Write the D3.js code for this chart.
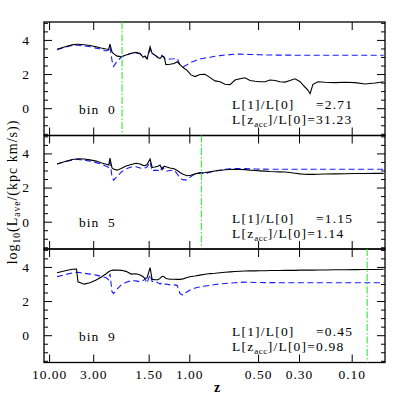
<!DOCTYPE html>
<html>
<head>
<meta charset="utf-8">
<script src="https://cdn.jsdelivr.net/npm/d3@7/dist/d3.min.js"></script>
<style>
  body { margin: 0; background: #fff; }
  text { font-family: "Liberation Serif", "Times New Roman", serif; fill: #000; }
</style>
</head>
<body>
<svg id="chart" width="407" height="407"></svg>
<script>
// cosmic time (Gyr) of each output, shared by all curves
var tGyr = [0.80, 1.12, 1.39, 1.56, 1.62, 1.86, 2.09, 2.33, 2.52, 2.72,
            2.82, 2.87, 2.95, 3.01, 3.15, 3.31, 3.50, 3.70, 3.89, 4.05,
            4.17, 4.24, 4.32, 4.44, 4.52, 4.63, 4.75, 4.83, 4.91, 4.99,
            5.06, 5.22, 5.38, 5.50, 5.61, 5.73, 5.89, 6.04, 6.20, 6.39,
            6.59, 6.79, 6.98, 7.18, 7.37, 7.57, 7.76, 7.96, 8.15, 8.35,
            8.55, 8.74, 8.94, 9.13, 9.33, 9.52, 9.72, 9.91, 10.11, 10.31,
            10.46, 10.62, 10.70, 10.81, 11.01, 11.28, 11.67, 12.07, 12.46, 12.85,
            13.24, 13.58];

var bins = [0, 5, 9];

// log10 L_ave, solid black
var solid0 = [3.45, 3.60, 3.71, 3.75, 3.75, 3.72, 3.67, 3.60, 3.53, 3.47,
              3.45, 3.76, 3.30, 3.20, 3.05, 3.02, 3.12, 3.22, 3.27, 3.21,
              2.98, 3.05, 2.88, 3.60, 3.21, 3.11, 2.95, 2.92, 3.05, 3.01,
              2.55, 2.57, 2.62, 2.72, 2.55, 2.38, 2.22, 1.95, 1.85, 1.97,
              1.99, 1.79, 1.60, 1.55, 1.40, 1.38, 1.65, 1.72, 1.78, 1.62,
              1.58, 1.55, 1.55, 1.65, 1.62, 1.55, 1.53, 1.62, 1.72, 1.55,
              1.30, 1.05, 0.85, 1.40, 1.55, 1.52, 1.50, 1.52, 1.50, 1.42,
              1.48, 1.55];
var solid5 = [3.38, 3.53, 3.64, 3.67, 3.68, 3.67, 3.62, 3.55, 3.45, 3.36,
              3.32, 3.72, 3.15, 3.08, 3.02, 3.12, 3.26, 3.35, 3.42, 3.38,
              3.30, 3.28, 3.35, 3.67, 3.18, 3.20, 3.25, 3.32, 3.05, 3.25,
              3.22, 3.15, 3.10, 3.00, 2.88, 2.78, 2.69, 2.72, 2.80, 2.86,
              2.88, 2.92, 2.97, 3.00, 3.04, 3.06, 3.07, 3.06, 3.05, 3.02,
              3.00, 2.98, 2.96, 2.94, 2.93, 2.92, 2.91, 2.88, 2.84, 2.80,
              2.78, 2.77, 2.77, 2.77, 2.78, 2.79, 2.80, 2.81, 2.82, 2.82,
              2.83, 2.83];
var solid9 = [3.66, 3.78, 3.86, 3.88, 3.13, 2.99, 3.07, 3.24, 3.40, 3.60,
              3.72, 3.76, 3.80, 3.81, 3.82, 3.80, 3.74, 3.58, 3.60, 3.53,
              3.42, 3.33, 3.35, 3.96, 3.27, 3.25, 3.25, 3.33, 3.45, 3.42,
              3.32, 3.28, 3.28, 3.27, 3.27, 3.30, 3.38, 3.44, 3.47, 3.52,
              3.57, 3.61, 3.63, 3.66, 3.69, 3.71, 3.73, 3.75, 3.76, 3.77,
              3.77, 3.78, 3.78, 3.79, 3.79, 3.79, 3.80, 3.80, 3.80, 3.81,
              3.81, 3.81, 3.81, 3.81, 3.82, 3.82, 3.83, 3.83, 3.84, 3.85,
              3.85, 3.86];

// log10 L_ave, dashed blue
var dashed0 = [3.42, 3.58, 3.68, 3.70, 3.69, 3.65, 3.60, 3.52, 3.45, 3.35,
               3.40, 3.60, 2.80, 2.45, 2.75, 2.98, 3.12, 3.20, 3.25, 3.18,
               3.00, 3.05, 2.92, 3.45, 3.20, 3.11, 3.00, 3.02, 3.10, 2.95,
               2.86, 2.88, 2.90, 2.92, 2.55, 2.42, 2.55, 2.68, 2.78, 2.88,
               2.94, 2.98, 3.04, 3.08, 3.12, 3.14, 3.16, 3.17, 3.16, 3.15,
               3.14, 3.13, 3.12, 3.12, 3.11, 3.11, 3.11, 3.11, 3.10, 3.10,
               3.10, 3.10, 3.10, 3.10, 3.10, 3.10, 3.10, 3.10, 3.10, 3.10,
               3.10, 3.10];
var dashed5 = [3.38, 3.52, 3.61, 3.64, 3.64, 3.61, 3.55, 3.46, 3.38, 3.25,
               3.18, 3.50, 2.65, 2.43, 2.65, 2.90, 3.10, 3.20, 3.22, 3.15,
               3.10, 3.15, 3.20, 3.50, 2.96, 3.02, 3.00, 2.92, 3.20, 3.10,
               2.95, 3.00, 3.02, 2.80, 2.55, 2.45, 2.45, 2.65, 2.80, 2.86,
               2.78, 2.92, 2.98, 3.03, 3.07, 3.10, 3.12, 3.12, 3.11, 3.10,
               3.09, 3.08, 3.08, 3.07, 3.07, 3.07, 3.07, 3.07, 3.07, 3.07,
               3.07, 3.07, 3.07, 3.07, 3.07, 3.07, 3.07, 3.07, 3.07, 3.07,
               3.07, 3.07];
var dashed9 = [3.43, 3.55, 3.64, 3.68, 3.68, 3.63, 3.58, 3.52, 3.45, 3.36,
               3.25, 3.60, 2.55, 2.44, 2.70, 2.95, 3.10, 3.19, 3.18, 3.13,
               3.20, 3.30, 3.05, 3.55, 3.15, 3.15, 3.08, 3.00, 3.08, 2.98,
               3.00, 2.95, 2.95, 2.92, 2.44, 2.34, 2.55, 2.68, 2.76, 2.83,
               2.88, 2.92, 2.97, 3.00, 3.03, 3.05, 3.07, 3.09, 3.11, 3.10,
               3.09, 3.09, 3.08, 3.08, 3.08, 3.07, 3.07, 3.07, 3.07, 3.07,
               3.07, 3.07, 3.07, 3.07, 3.07, 3.07, 3.07, 3.07, 3.07, 3.07,
               3.07, 3.07];

var zAcc = [2.02, 0.89, 0.05];
var ratioNow = ["2.71", "1.15", "0.45"];
var ratioAcc = ["31.23", "1.14", "0.98"];

var zTicks = [10, 3, 1.5, 1, 0.5, 0.3, 0.1];
var yMajor = [0, 2, 4];
var yMinor = d3.range(-1.5, 5.01, 0.5).filter(function (v) { return yMajor.indexOf(v) < 0; });

var solids = [solid0, solid5, solid9];
var dasheds = [dashed0, dashed5, dashed9];

// age of the universe at redshift z (flat LCDM, Om=0.25, h=0.73)
function ageGyr(z) {
    var om = 0.25, ol = 0.75, hubbleTime = 977.8 / 73;
    return 2 / (3 * Math.sqrt(ol)) * hubbleTime *
        Math.asinh(Math.sqrt(ol / om) * Math.pow(1 + z, -1.5));
}

function drawChart() {
    var left = 44, right = 385;
    var firstTop = 22, panelH = 113.5;

    var svg = d3.select("#chart");

    var xScale = d3.scaleLinear()
        .domain([0.29, 13.63])
        .range([left, right]);

    var fmt = d3.format(".2f");

    for (var p = 0; p < 3; p++) {
        var yTop = firstTop + p * panelH;
        var yBottom = yTop + panelH;
        var isLast = (p == 2);

        var yScale = d3.scaleLinear()
            .domain([-1.6, 5.05])
            .range([yBottom, yTop]);

        var g = svg.append("g");

        // x ticks, bottom and top, pointing in
        var xb = d3.axisBottom(xScale)
            .tickValues(zTicks.map(ageGyr))
            .tickSize(-8)
            .tickPadding(7)
            .tickFormat(function (d, i) { return isLast ? fmt(zTicks[i]) : ""; });
        g.append("g").attr("transform", "translate(0," + yBottom + ")").call(xb);

        var xt = d3.axisTop(xScale)
            .tickValues(zTicks.map(ageGyr))
            .tickSize(-8)
            .tickFormat("");
        g.append("g").attr("transform", "translate(0," + yTop + ")").call(xt);

        // y ticks, left and right
        g.append("g").attr("transform", "translate(" + left + ",0)")
            .call(d3.axisLeft(yScale).tickValues(yMajor).tickSize(-8).tickPadding(14).tickFormat(d3.format("d")));
        g.append("g").attr("transform", "translate(" + left + ",0)")
            .call(d3.axisLeft(yScale).tickValues(yMinor).tickSize(-4).tickFormat(""));
        g.append("g").attr("transform", "translate(" + right + ",0)")
            .call(d3.axisRight(yScale).tickValues(yMajor).tickSize(-8).tickFormat(""));
        g.append("g").attr("transform", "translate(" + right + ",0)")
            .call(d3.axisRight(yScale).tickValues(yMinor).tickSize(-4).tickFormat(""));

        g.selectAll(".domain").remove();
        g.selectAll(".tick line").attr("stroke", "#000").attr("stroke-width", 1);
        g.selectAll(".tick text")
            .attr("font-family", "Liberation Serif, serif")
            .attr("font-size", 13.5)
            .attr("letter-spacing", 1)
            .attr("fill", "#000");

        // panel frame
        g.append("rect")
            .attr("x", left).attr("y", yTop)
            .attr("width", right - left).attr("height", panelH)
            .attr("fill", "none").attr("stroke", "#000").attr("stroke-width", 1.3);

        var line = d3.line()
            .x(function (d, i) { return xScale(tGyr[i]); })
            .y(function (d) { return yScale(d); });

        g.append("path").datum(dasheds[p])
            .attr("d", line)
            .attr("fill", "none")
            .attr("stroke", "#1a1aff")
            .attr("stroke-width", 1.1)
            .attr("stroke-dasharray", "6,3.5");

        g.append("path").datum(solids[p])
            .attr("d", line)
            .attr("fill", "none")
            .attr("stroke", "#000")
            .attr("stroke-width", 1.1);

        // accretion redshift marker
        var xAcc = xScale(ageGyr(zAcc[p]));
        g.append("line")
            .attr("x1", xAcc).attr("x2", xAcc)
            .attr("y1", yTop).attr("y2", yBottom)
            .attr("stroke", "#33e633")
            .attr("stroke-width", 1.1)
            .attr("stroke-dasharray", "7,2,1.5,2");

        // labels
        g.append("text")
            .attr("x", 79).attr("y", yTop + 91.5)
            .attr("font-size", 13.5)
            .attr("letter-spacing", 1)
            .style("white-space", "pre")
            .text("bin  " + bins[p]);

        g.append("text")
            .attr("x", 232).attr("y", yTop + 87)
            .attr("font-size", 13.5)
            .attr("letter-spacing", 1.2)
            .text("L[1]/L[0]");
        g.append("text")
            .attr("x", 316).attr("y", yTop + 87)
            .attr("font-size", 13.5)
            .attr("letter-spacing", 1.2)
            .text("=" + ratioNow[p]);

        var t2 = g.append("text")
            .attr("x", 232).attr("y", yTop + 102)
            .attr("font-size", 13.5)
            .attr("letter-spacing", 1.2);
        t2.append("tspan").text("L[z");
        t2.append("tspan").attr("font-size", 9).attr("dy", 3).attr("letter-spacing", 0.5).text("acc");
        t2.append("tspan").attr("dy", -3).text("]/L[0]=" + ratioAcc[p]);
    }

    // axis titles
    svg.append("text")
        .attr("x", 217).attr("y", 392)
        .attr("font-size", 14)
        .attr("font-weight", "bold")
        .attr("text-anchor", "middle")
        .text("z");

    var yl = svg.append("text")
        .attr("transform", "translate(17,192) rotate(-90)")
        .attr("text-anchor", "middle")
        .attr("font-size", 14)
        .attr("letter-spacing", 1);
    yl.append("tspan").text("log");
    yl.append("tspan").attr("font-size", 9.5).attr("dy", 3).text("10");
    yl.append("tspan").attr("dy", -3).text("(L");
    yl.append("tspan").attr("font-size", 9.5).attr("dy", 3).text("ave");
    yl.append("tspan").attr("dy", -3).text("/(kpc km/s))");
}

drawChart();
</script>
</body>
</html>
